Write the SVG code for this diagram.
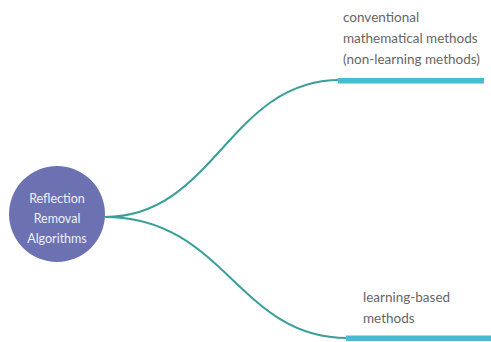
<svg xmlns="http://www.w3.org/2000/svg" width="491" height="342" viewBox="0 0 491 342">
  <style>
    .link { fill: none; stroke: #3a9f98; stroke-width: 2; }
    .bar { fill: #48bdd1; }
    .root-text { font-family: Lato, "Open Sans", sans-serif; font-size: 12.5px; fill: #eef0f8; text-anchor: middle; }
    .leaf-text { font-family: Lato, "Open Sans", sans-serif; font-size: 13.5px; fill: #666666; }
  </style>
  <rect width="491" height="342" fill="#ffffff"/>

  <g id="connectors">
    <path class="link" d="M105,217 C215,217 229,80 340,80"/>
    <path class="link" d="M105,217 C225,217 238,338 347,338"/>
  </g>

  <g id="root">
    <circle cx="57" cy="214" r="48" fill="#6c71b2"/>
    <text class="root-text" x="57" y="203">Reflection</text>
    <text class="root-text" x="57" y="223">Removal</text>
    <text class="root-text" x="57" y="243">Algorithms</text>
  </g>

  <g id="conventional">
    <rect class="bar" x="338" y="78" width="146" height="5.5"/>
    <text class="leaf-text" x="343" y="22">conventional</text>
    <text class="leaf-text" x="343" y="43">mathematical methods</text>
    <text class="leaf-text" x="343" y="64">(non-learning methods)</text>
  </g>

  <g id="learning">
    <rect class="bar" x="346" y="335.5" width="145" height="5.5"/>
    <text class="leaf-text" x="363" y="302">learning-based</text>
    <text class="leaf-text" x="363" y="323">methods</text>
  </g>
</svg>
